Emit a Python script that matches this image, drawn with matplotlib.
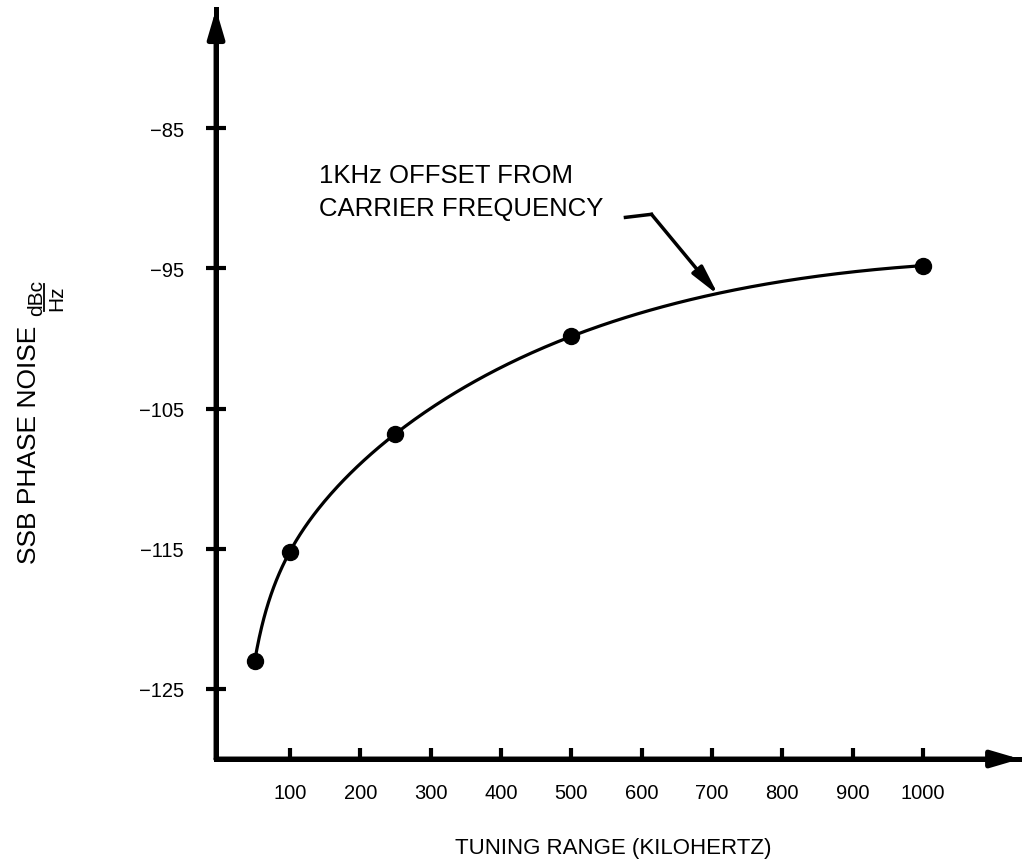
import numpy as np
import matplotlib
matplotlib.use("Agg")
import matplotlib.pyplot as plt

plt.rcParams['font.family'] = ['Liberation Sans', 'DejaVu Sans']

# values
tuning_khz = [50, 100, 250, 500, 1000]
noise_dbc = [-123.0, -115.2, -106.8, -99.85, -94.8]
x_ticks = [100, 200, 300, 400, 500, 600, 700, 800, 900, 1000]
y_ticks = [-85, -95, -105, -115, -125]

fig = plt.figure(figsize=(10.22, 8.62), dpi=100)
ax = fig.add_axes([0.2114, 0.1183, 0.7867, 0.870])
ax.set_xlim(-5, 1138)
ax.set_ylim(-130, -76.5)

# smooth line through the points (drawn in log-x space)
lx = np.log(tuning_khz)
coef = np.polyfit(lx, noise_dbc, 4)
xs = np.linspace(lx[0], lx[-1], 300)
ax.plot(np.exp(xs), np.polyval(coef, xs), color='k', lw=2.3, solid_capstyle='round')
ax.plot(tuning_khz, noise_dbc, 'o', color='k', ms=11.5)

# axes drawn as arrows
for s in ['top', 'right']:
    ax.spines[s].set_visible(False)
for s in ['left', 'bottom']:
    ax.spines[s].set_linewidth(3.6)
arrow = dict(arrowstyle='-|>,head_length=0.85,head_width=0.25', lw=3.6,
             color='k', mutation_scale=20, shrinkA=0, shrinkB=0)
ax.annotate('', xy=(1.0, 0), xytext=(0, 0), xycoords='axes fraction', arrowprops=arrow)
ax.annotate('', xy=(0, 1.0), xytext=(0, 0), xycoords='axes fraction', arrowprops=arrow)

ax.set_xticks(x_ticks)
ax.set_yticks(y_ticks)
ax.tick_params(axis='x', direction='in', length=8, width=3, pad=17, labelsize=14.5)
ax.tick_params(axis='y', direction='inout', length=14, width=3, pad=16, labelsize=14.5)

# callout
ax.text(142, -87.5, '1KHz OFFSET FROM\nCARRIER FREQUENCY', fontsize=18.5,
        va='top', ha='left', linespacing=1.45)
ax.plot([577, 614], [-91.36, -91.14], color='k', lw=2.5)
ax.annotate('', xy=(709, -96.9), xytext=(614, -91.14),
            arrowprops=dict(arrowstyle='-|>,head_length=0.9,head_width=0.2', lw=2.5,
                            color='k', mutation_scale=20, shrinkA=0, shrinkB=0))

# y label with stacked dBc / Hz
fig.text(29 / 1022, 1 - 564 / 862, 'SSB PHASE NOISE', rotation=90,
         ha='center', va='bottom', fontsize=19)
fig.text(37 / 1022, 1 - 298 / 862, 'dBc', rotation=90, ha='center', va='center', fontsize=15)
fig.text(57 / 1022, 1 - 298 / 862, 'Hz', rotation=90, ha='center', va='center', fontsize=15)
fig.add_artist(plt.Line2D([44 / 1022, 44 / 1022], [1 - 285 / 862, 1 - 312 / 862],
                          color='k', lw=1.3))

fig.text(0.600, 0.0151, 'TUNING RANGE (KILOHERTZ)', ha='center', va='center', fontsize=16)

fig.savefig('out.png', dpi=100)
